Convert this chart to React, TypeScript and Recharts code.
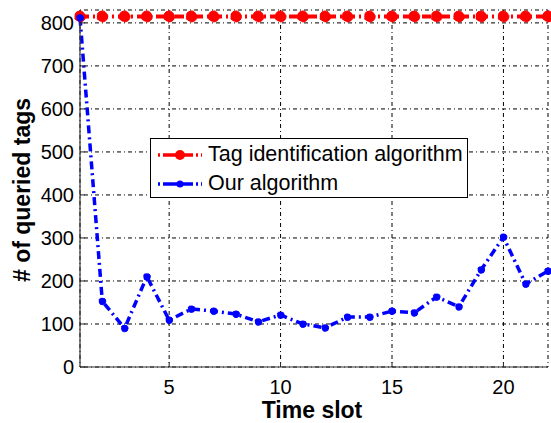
import React from 'react';
import { LineChart, Line, XAxis, YAxis, CartesianGrid, Legend } from 'recharts';

// Time slots on the x axis
const timeSlots = [1, 2, 3, 4, 5, 6, 7, 8, 9, 10, 11, 12, 13, 14, 15, 16, 17, 18, 19, 20, 21, 22];

// Number of queried tags per slot
const tagIdentification = [815, 815, 815, 815, 815, 815, 815, 815, 815, 815, 815, 815, 815, 815, 815, 815, 815, 815, 815, 815, 815, 815];
const ourAlgorithm = [812, 153, 90, 210, 109, 135, 130, 123, 105, 121, 100, 91, 116, 116, 130, 126, 163, 140, 226, 302, 193, 223];

const xTicks = [5, 10, 15, 20];
const yTicks = [0, 100, 200, 300, 400, 500, 600, 700, 800];

const SERIES_TAG = 'Tag identification algorithm';
const SERIES_OURS = 'Our algorithm';

const data = timeSlots.map((t, i) => ({
  slot: t,
  tag: tagIdentification[i],
  ours: ourAlgorithm[i],
}));

const FONT = '"Liberation Sans", Arial, sans-serif';
const RED = '#ff0000';
const BLUE = '#0000ff';

const XTick = (props: any) => {
  const { x, y, payload } = props;
  return (
    <g>
      <line x1={x} x2={x} y1={y} y2={y - 5} stroke="#222" strokeWidth={1} />
      <text x={x} y={y + 27} textAnchor="middle" fontFamily={FONT} fontSize={20} fill="#000">
        {payload.value}
      </text>
    </g>
  );
};

const YTick = (props: any) => {
  const { x, y, payload } = props;
  return (
    <g>
      <line x1={x} x2={x + 5} y1={y} y2={y} stroke="#222" strokeWidth={1} />
      <text x={x - 6} y={y + 7} textAnchor="end" fontFamily={FONT} fontSize={20} fill="#000">
        {payload.value}
      </text>
    </g>
  );
};

const LegendBox = () => (
  <div
    style={{
      width: 318,
      height: 60,
      border: '1px solid #000',
      background: '#fff',
      boxSizing: 'border-box',
      fontFamily: FONT,
      fontSize: 21.5,
      color: '#000',
      padding: '1px 0 0 6px',
      whiteSpace: 'nowrap',
    }}
  >
    {[
      { name: SERIES_TAG, color: RED, r: 5 },
      { name: SERIES_OURS, color: BLUE, r: 3.5 },
    ].map((s) => (
      <div key={s.name} style={{ display: 'flex', alignItems: 'center', height: 29 }}>
        <svg width={46} height={14} style={{ marginRight: 5, flex: 'none' }}>
          <line x1={1} x2={45} y1={7} y2={7} stroke={s.color} strokeWidth={3.5} strokeDasharray="2 3 30 3 2 3" />
          <circle cx={23} cy={7} r={s.r} fill={s.color} />
        </svg>
        <span>{s.name}</span>
      </div>
    ))}
  </div>
);

export default function App() {
  return (
    <div style={{ position: 'absolute', left: 0, top: 0, width: 551, height: 423, background: '#fff' }}>
      <LineChart width={551} height={423} data={data} margin={{ top: 10, right: 3, bottom: 0, left: 0 }}>
        <CartesianGrid stroke="#000" strokeWidth={1} strokeDasharray="1 3 4 3" />
        <XAxis
          dataKey="slot"
          type="number"
          domain={[1, 22]}
          ticks={xTicks}
          height={56}
          tickLine={false}
          tickSize={0}
          tickMargin={0}
          tick={<XTick />}
          axisLine={{ stroke: '#333', strokeWidth: 1.2 }}
          label={(p: any) => {
            const vb = p.viewBox;
            return (
              <text x={vb.x + vb.width / 2 - 2} y={vb.y + 51} textAnchor="middle" fontFamily={FONT} fontSize={23} fontWeight="bold" fill="#000">
                Time slot
              </text>
            );
          }}
        />
        <XAxis xAxisId="top" orientation="top" dataKey="slot" type="number" domain={[1, 22]} height={0} tick={false} tickLine={false} axisLine={{ stroke: '#333', strokeWidth: 1.2 }} />
        <YAxis
          type="number"
          domain={[0, 830]}
          ticks={yTicks}
          width={80}
          tickLine={false}
          tickSize={0}
          tickMargin={0}
          tick={<YTick />}
          axisLine={{ stroke: '#333', strokeWidth: 1.2 }}
          label={(p: any) => {
            const vb = p.viewBox;
            const cx = 22;
            const cy = vb.y + vb.height / 2 + 1.5;
            return (
              <text x={cx} y={cy} transform={`rotate(-90 ${cx} ${cy})`} textAnchor="middle" dominantBaseline="central" fontFamily={FONT} fontSize={23} fontWeight="bold" fill="#000">
                # of queried tags
              </text>
            );
          }}
        />
        <YAxis yAxisId="right" orientation="right" domain={[0, 830]} width={0} tick={false} tickLine={false} axisLine={{ stroke: '#333', strokeWidth: 1.2 }} />
        <Legend
          layout="horizontal"
          verticalAlign="middle"
          align="center"
          content={<LegendBox />}
          wrapperStyle={{ position: 'absolute', left: 150, top: 138, width: 'auto' }}
        />
        <Line
          name={SERIES_TAG}
          dataKey="tag"
          stroke={RED}
          strokeWidth={4}
          strokeDasharray="9 4 2 4"
          dot={{ r: 5.5, fill: RED, stroke: RED, strokeWidth: 1 }}
          isAnimationActive={false}
        />
        <Line
          name={SERIES_OURS}
          dataKey="ours"
          stroke={BLUE}
          strokeWidth={3.5}
          strokeDasharray="8 4 2 4"
          dot={{ r: 3.5, fill: BLUE, stroke: BLUE, strokeWidth: 1 }}
          isAnimationActive={false}
        />
      </LineChart>
    </div>
  );
}
